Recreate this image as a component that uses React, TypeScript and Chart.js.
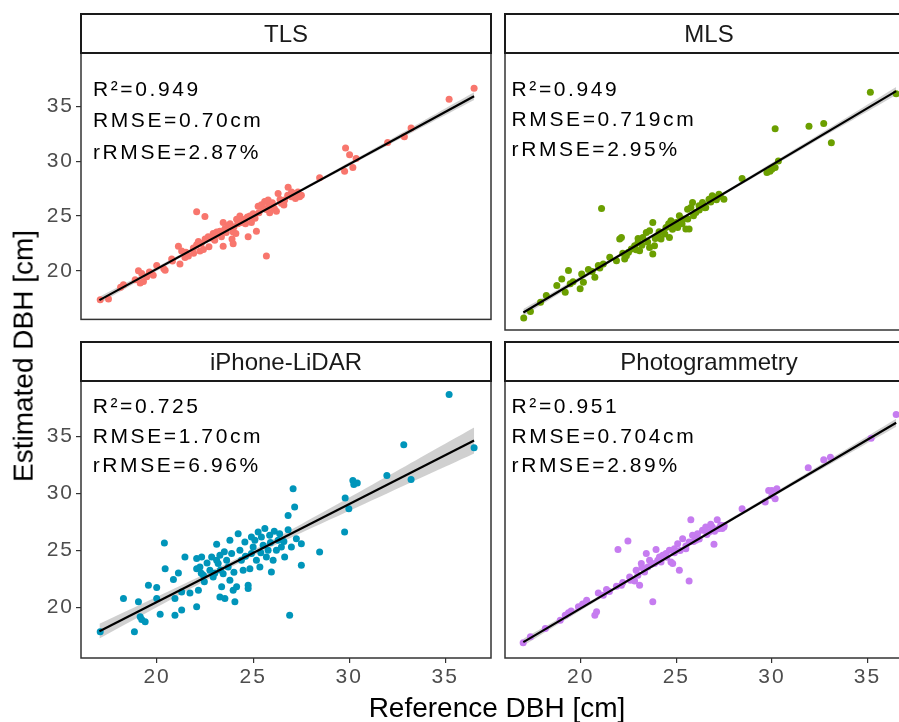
import React, { useEffect, useRef } from "react";
import { Chart, registerables } from "chart.js";
Chart.register(...registerables);

// ---------- data ----------
const panelNames = ["TLS", "MLS", "iPhone-LiDAR", "Photogrammetry"];
const pointColors = ["#F8766D", "#6B9F00", "#0095BA", "#C67CF0"];
const statR2 = ["0.949", "0.949", "0.725", "0.951"];
const statRMSE = ["0.70cm", "0.719cm", "1.70cm", "0.704cm"];
const statRRMSE = ["2.87%", "2.95%", "6.96%", "2.89%"];
const xTicks = [20, 25, 30, 35];
const yTicks = [20, 25, 30, 35];
const xRange = [16.04, 37.38];
const yRange = [15.57, 39.87];
const xTitle = "Reference DBH [cm]";
const yTitle = "Estimated DBH [cm]";

const tlsPoints: [number, number][] = [
  [17.04, 17.37], [17.47, 17.43], [18.1, 18.5], [18.25, 18.74], [18.86, 19.18], [19.03, 20.0], [19.12, 18.89], [19.2, 19.76],
  [19.29, 19.03], [19.46, 19.47], [19.6, 19.9], [19.8, 19.6], [19.98, 20.49], [20.35, 20.2], [20.42, 20.05], [20.76, 21.07],
  [20.8, 20.9], [21.11, 22.24], [21.19, 20.63], [21.28, 21.8], [21.45, 21.22], [21.5, 21.7], [21.63, 21.36], [21.89, 22.09],
  [21.9, 21.6], [22.06, 22.38], [22.06, 25.38], [22.15, 22.67], [22.23, 21.8], [22.3, 22.5], [22.41, 21.95], [22.49, 24.95],
  [22.5, 22.9], [22.66, 23.11], [22.7, 22.2], [22.8, 23.0], [22.92, 23.4], [23.0, 23.2], [23.0, 22.8], [23.1, 23.55],
  [23.2, 23.4], [23.27, 23.61], [23.35, 23.1], [23.44, 22.24], [23.44, 24.42], [23.53, 23.84], [23.6, 23.5], [23.7, 24.13],
  [23.8, 24.3], [23.88, 23.99], [23.9, 22.9], [23.96, 23.55], [23.96, 22.47], [24.0, 24.0], [24.1, 23.4], [24.14, 24.71],
  [24.2, 24.3], [24.31, 25.0], [24.39, 24.42], [24.45, 24.6], [24.57, 24.71], [24.6, 24.3], [24.7, 24.9], [24.74, 23.11],
  [24.83, 25.0], [24.91, 24.42], [25.0, 25.2], [25.1, 24.8], [25.17, 23.61], [25.26, 25.88], [25.3, 25.3], [25.43, 26.03],
  [25.5, 25.7], [25.6, 26.32], [25.69, 21.36], [25.69, 25.59], [25.78, 26.46], [25.8, 25.9], [25.86, 25.3], [25.95, 25.88],
  [26.0, 26.2], [26.1, 25.7], [26.21, 25.44], [26.3, 27.05], [26.4, 26.5], [26.47, 26.17], [26.6, 26.0], [26.64, 26.46],
  [26.8, 26.9], [26.82, 27.63], [26.99, 26.75], [27.0, 27.2], [27.16, 27.05], [27.2, 26.6], [27.33, 27.19], [27.42, 26.75],
  [27.51, 26.9], [28.46, 28.5], [29.76, 29.08], [29.81, 31.2], [30.02, 30.6], [30.19, 29.43], [30.36, 30.25], [32.0, 31.7],
  [32.87, 32.23], [33.22, 33.02], [35.2, 35.64], [36.5, 36.66],
];

const mlsPoints: [number, number][] = [
  [17.02, 16.62], [17.37, 17.2], [17.9, 18.0], [18.2, 18.6], [18.75, 19.47], [19.01, 20.05], [19.19, 18.89], [19.36, 20.78],
  [19.45, 19.62], [19.6, 19.8], [19.97, 19.18], [20.05, 20.49], [20.14, 19.76], [20.4, 20.87], [20.6, 20.7], [20.74, 20.2],
  [20.92, 21.22], [21.0, 21.0], [21.09, 26.23], [21.18, 21.36], [21.52, 21.95], [21.87, 21.65], [22.04, 23.55], [22.13, 23.69],
  [22.2, 22.3], [22.3, 21.8], [22.39, 22.09], [22.5, 22.4], [22.65, 22.67], [22.82, 22.97], [22.9, 22.6], [23.0, 23.26],
  [23.0, 23.6], [23.08, 22.53], [23.2, 23.0], [23.25, 23.69], [23.43, 24.13], [23.5, 23.3], [23.6, 24.28], [23.6, 22.8],
  [23.77, 25.0], [23.77, 22.24], [23.86, 22.97], [23.9, 23.6], [24.03, 23.84], [24.1, 24.2], [24.2, 23.55], [24.29, 24.13],
  [24.4, 24.0], [24.46, 24.57], [24.6, 24.9], [24.64, 23.69], [24.72, 25.15], [24.8, 24.4], [24.9, 24.86], [25.0, 25.0],
  [25.07, 24.57], [25.16, 25.59], [25.3, 24.9], [25.33, 25.3], [25.5, 24.42], [25.59, 26.17], [25.6, 25.3], [25.67, 24.42],
  [25.76, 26.32], [25.85, 26.75], [25.9, 25.6], [26.02, 25.88], [26.19, 26.46], [26.2, 26.1], [26.37, 26.75], [26.5, 26.3],
  [26.54, 26.32], [26.71, 27.05], [26.8, 26.8], [26.88, 27.34], [27.06, 27.19], [27.1, 27.0], [27.23, 27.48], [27.3, 27.3],
  [27.49, 27.05], [28.44, 28.85], [29.74, 29.38], [29.9, 29.5], [30.0, 29.67], [30.17, 29.82], [30.34, 30.39], [30.17, 33.22],
  [31.94, 33.45], [32.71, 33.69], [33.11, 32.0], [35.15, 36.43], [36.5, 36.3],
];

const iphonePoints: [number, number][] = [
  [17.04, 17.87], [18.25, 20.79], [18.82, 17.87], [19.03, 20.5], [19.12, 19.18], [19.2, 18.95], [19.38, 18.74], [19.55, 21.95],
  [19.98, 21.75], [19.98, 20.79], [20.16, 19.41], [20.38, 25.66], [20.42, 23.41], [20.85, 22.45], [20.93, 20.79], [20.93, 19.33],
  [21.11, 23.03], [21.28, 21.37], [21.28, 19.77], [21.45, 24.44], [21.71, 21.28], [22.06, 20.06], [22.06, 24.29], [22.06, 23.41],
  [22.15, 21.52], [22.23, 23.56], [22.3, 23.0], [22.32, 24.44], [22.41, 22.83], [22.46, 22.25], [22.6, 23.9], [22.75, 23.27],
  [22.84, 24.44], [22.92, 22.68], [23.0, 23.0], [23.1, 25.54], [23.1, 24.14], [23.18, 23.85], [23.27, 24.58], [23.27, 20.93],
  [23.3, 23.3], [23.36, 21.81], [23.44, 22.97], [23.5, 24.9], [23.53, 20.79], [23.62, 24.14], [23.7, 23.56], [23.79, 25.9],
  [23.79, 22.39], [23.88, 24.73], [23.96, 21.52], [24.0, 23.1], [24.05, 20.5], [24.14, 21.81], [24.22, 26.48], [24.31, 25.02],
  [24.39, 24.14], [24.48, 23.27], [24.57, 25.75], [24.6, 24.5], [24.74, 21.95], [24.74, 21.66], [24.83, 23.41], [24.91, 24.73],
  [24.91, 26.19], [25.0, 25.3], [25.09, 25.9], [25.17, 24.14], [25.26, 26.62], [25.35, 23.56], [25.4, 24.8], [25.43, 26.19],
  [25.52, 25.46], [25.61, 26.92], [25.69, 24.44], [25.78, 25.02], [25.86, 26.33], [25.9, 25.7], [25.95, 23.12], [26.04, 24.14],
  [26.1, 26.7], [26.21, 25.02], [26.3, 25.9], [26.38, 26.48], [26.47, 25.31], [26.6, 25.8], [26.64, 24.44], [26.82, 28.08],
  [26.82, 26.83], [26.9, 19.33], [26.99, 25.31], [27.08, 30.42], [27.16, 28.81], [27.25, 26.04], [27.51, 25.6], [27.51, 23.71],
  [28.46, 24.87], [29.76, 26.62], [29.79, 29.6], [29.98, 28.67], [30.19, 31.15], [30.24, 30.8], [30.42, 30.92], [31.96, 31.58],
  [32.84, 34.27], [33.22, 31.23], [35.2, 38.68], [36.5, 34.01],
];

const photoPoints: [number, number][] = [
  [16.99, 16.9], [17.37, 17.43], [18.15, 18.16], [18.93, 18.89], [19.19, 19.33], [19.36, 19.53], [19.5, 19.7], [19.88, 20.06],
  [20.1, 20.3], [20.31, 20.64], [20.74, 19.33], [20.83, 19.62], [20.92, 21.28], [21.18, 21.08], [21.35, 21.58], [21.5, 21.4],
  [21.87, 21.86], [21.95, 25.08], [22.13, 21.95], [22.2, 22.2], [22.47, 25.84], [22.56, 22.68], [22.6, 22.4], [22.82, 22.33],
  [22.9, 23.27], [22.99, 22.83], [23.08, 21.95], [23.17, 23.85], [23.2, 23.5], [23.34, 23.12], [23.43, 24.73], [23.51, 23.56],
  [23.6, 24.14], [23.7, 23.8], [23.77, 20.5], [23.86, 23.85], [23.94, 25.08], [24.03, 24.14], [24.12, 24.44], [24.2, 24.0],
  [24.29, 24.58], [24.46, 24.73], [24.5, 24.4], [24.64, 25.02], [24.72, 23.99], [24.81, 23.85], [24.9, 25.16], [24.9, 24.8],
  [25.07, 25.6], [25.16, 23.27], [25.2, 25.0], [25.33, 26.04], [25.5, 25.16], [25.5, 25.4], [25.67, 22.33], [25.67, 25.75],
  [25.76, 27.7], [25.85, 26.33], [25.9, 25.8], [26.02, 25.9], [26.11, 26.48], [26.2, 26.0], [26.37, 26.77], [26.54, 27.06],
  [26.6, 26.4], [26.71, 26.62], [26.8, 27.3], [26.88, 27.06], [26.97, 25.54], [27.0, 26.7], [27.14, 27.7], [27.2, 26.9],
  [27.32, 27.21], [27.4, 26.92], [27.49, 27.06], [27.5, 27.2], [28.44, 28.67], [29.65, 29.25], [29.83, 30.27], [30.0, 29.8],
  [30.0, 30.27], [30.17, 29.54], [30.26, 30.42], [31.9, 32.26], [32.71, 32.96], [33.06, 33.19], [35.19, 34.85], [36.5, 36.93],
];

// fitted regression lines
const fitX = [17.0, 36.5];
const tlsFit = [17.33, 35.93];
const mlsFit = [17.11, 36.53];
const iphoneFit = [17.92, 34.65];
const photoFit = [16.96, 36.21];

// confidence bands
const bandX = [17.0, 20.0, 24.5, 29.0, 32.0, 36.5];
const tlsUpper = [17.63, 20.37, 24.59, 28.93, 31.84, 36.28];
const tlsLower = [17.03, 20.01, 24.39, 28.63, 31.44, 35.58];
const mlsUpper = [17.41, 20.28, 24.68, 29.21, 32.25, 36.88];
const mlsLower = [16.81, 19.92, 24.48, 28.91, 31.85, 36.18];
const iphoneUpper = [18.57, 20.94, 24.6, 28.71, 31.53, 35.8];
const iphoneLower = [17.27, 20.04, 24.1, 27.71, 30.03, 33.5];
const photoUpper = [17.26, 20.1, 24.46, 28.96, 31.97, 36.56];
const photoLower = [16.66, 19.74, 24.26, 28.66, 31.57, 35.86];

const allPoints = [tlsPoints, mlsPoints, iphonePoints, photoPoints];
const allFits = [tlsFit, mlsFit, iphoneFit, photoFit];
const allUpper = [tlsUpper, mlsUpper, iphoneUpper, photoUpper];
const allLower = [tlsLower, mlsLower, iphoneLower, photoLower];

// ---------- layout / style ----------
const FONT = '"Liberation Sans", Arial, Helvetica, sans-serif';
const PANEL_W = 411;
const COL_LEFT = [81, 503];
const ROW_TOP = [53, 381];
const ROW_H = [278, 277];
const STRIP_H = 39;
const Y_AXIS_W = 50;
const X_AXIS_H = 45;
// [dx, dy of first line, line gap]
const annoPos = [
  [12, 37, 31.5],
  [6.6, 37, 30],
  [11.7, 26.3, 29.5],
  [6.6, 26.3, 29.7],
];

function geometry(i: number) {
  const col = i % 2;
  const row = Math.floor(i / 2);
  const padL = col === 0 ? Y_AXIS_W : 2;
  const padR = 3;
  const padT = STRIP_H + 2;
  const padB = row === 1 ? X_AXIS_H : 3;
  return {
    col,
    row,
    padL,
    padR,
    padT,
    padB,
    left: COL_LEFT[col] - padL,
    top: ROW_TOP[row] - padT,
    w: padL + PANEL_W + padR,
    h: padT + ROW_H[row] + padB,
  };
}

function makeChart(canvas: HTMLCanvasElement, i: number) {
  const g = geometry(i);
  const pts = allPoints[i];
  const showX = g.row === 1;
  const showY = g.col === 0;
  const facetPlugin = {
    id: "facet" + i,
    beforeDraw(chart: any) {
      chart.ctx.letterSpacing = "2px";
    },
    afterDraw(chart: any) {
      const ctx = chart.ctx;
      const a = chart.chartArea;
      const w = a.right - a.left;
      ctx.save();
      ctx.letterSpacing = "0px";
      // panel border
      ctx.strokeStyle = "#333333";
      ctx.lineWidth = 1.5;
      ctx.strokeRect(a.left, a.top, w, a.bottom - a.top);
      // strip
      const sTop = a.top - STRIP_H;
      ctx.fillStyle = "#ffffff";
      ctx.fillRect(a.left, sTop, w, STRIP_H);
      ctx.strokeStyle = "#1a1a1a";
      ctx.lineWidth = 2;
      ctx.strokeRect(a.left, sTop, w, STRIP_H);
      ctx.fillStyle = "#1a1a1a";
      ctx.font = `24px ${FONT}`;
      ctx.textAlign = "center";
      ctx.textBaseline = "middle";
      ctx.fillText(panelNames[i], (a.left + a.right) / 2, sTop + STRIP_H / 2 + 2);
      // statistics annotation
      const [dx, dy, gap] = annoPos[i];
      const lines = ["R²=" + statR2[i], "RMSE=" + statRMSE[i], "rRMSE=" + statRRMSE[i]];
      ctx.letterSpacing = "2.6px";
      ctx.font = `21px ${FONT}`;
      ctx.textAlign = "left";
      ctx.fillStyle = "#000000";
      lines.forEach((t, k) => ctx.fillText(t, a.left + dx, a.top + dy + k * gap));
      ctx.restore();
      ctx.letterSpacing = "0px";
    },
  };

  return new Chart(canvas, {
    type: "scatter",
    data: {
      datasets: [
        {
          type: "line",
          data: bandX.map((x, k) => ({ x, y: allUpper[i][k] })),
          borderWidth: 0,
          borderColor: "rgba(0,0,0,0)",
          pointRadius: 0,
          fill: false,
          tension: 0.4,
          order: 3,
        } as any,
        {
          type: "line",
          data: bandX.map((x, k) => ({ x, y: allLower[i][k] })),
          borderWidth: 0,
          borderColor: "rgba(0,0,0,0)",
          pointRadius: 0,
          fill: "-1",
          backgroundColor: "rgba(150,150,150,0.45)",
          tension: 0.4,
          order: 3,
        } as any,
        {
          type: "scatter",
          data: pts.map(([x, y]) => ({ x, y })),
          backgroundColor: pointColors[i],
          borderWidth: 0,
          pointRadius: 3.5,
          order: 2,
        } as any,
        {
          type: "line",
          data: fitX.map((x, k) => ({ x, y: allFits[i][k] })),
          borderColor: "#000000",
          borderWidth: 2.2,
          pointRadius: 0,
          fill: false,
          order: 1,
        } as any,
      ],
    },
    options: {
      responsive: false,
      animation: false,
      devicePixelRatio: 1,
      events: [],
      layout: {
        padding: {
          top: g.padT,
          right: g.padR,
          left: showY ? 0 : g.padL,
          bottom: showX ? 0 : g.padB,
        },
      },
      plugins: {
        legend: { display: false },
        tooltip: { enabled: false },
        title: { display: false },
      },
      scales: {
        x: {
          type: "linear",
          min: xRange[0],
          max: xRange[1],
          display: showX,
          afterBuildTicks: (s: any) => {
            s.ticks = xTicks.map((v) => ({ value: v }));
          },
          afterFit: (s: any) => {
            s.height = showX ? X_AXIS_H : 0;
          },
          grid: { drawOnChartArea: false, drawTicks: true, tickLength: 5, color: "#333333", lineWidth: 1.2 },
          border: { display: false },
          ticks: {
            color: "#4D4D4D",
            font: { family: FONT, size: 21 },
            padding: 2,
            maxRotation: 0,
            autoSkip: false,
          },
        },
        y: {
          type: "linear",
          min: yRange[0],
          max: yRange[1],
          display: showY,
          afterBuildTicks: (s: any) => {
            s.ticks = yTicks.map((v) => ({ value: v }));
          },
          afterFit: (s: any) => {
            s.width = showY ? Y_AXIS_W : 0;
          },
          grid: { drawOnChartArea: false, drawTicks: true, tickLength: 5, color: "#333333", lineWidth: 1.2 },
          border: { display: false },
          ticks: {
            color: "#4D4D4D",
            font: { family: FONT, size: 21 },
            padding: 2,
            autoSkip: false,
          },
        },
      },
    } as any,
    plugins: [facetPlugin as any],
  });
}

export default function App() {
  const r0 = useRef<HTMLCanvasElement>(null);
  const r1 = useRef<HTMLCanvasElement>(null);
  const r2 = useRef<HTMLCanvasElement>(null);
  const r3 = useRef<HTMLCanvasElement>(null);
  const refs = [r0, r1, r2, r3];

  useEffect(() => {
    const charts = refs.map((r, i) => makeChart(r.current as HTMLCanvasElement, i));
    return () => charts.forEach((c) => c.destroy());
  }, []);

  return (
    <div
      style={{
        position: "fixed",
        left: 0,
        top: 0,
        width: 899,
        height: 722,
        overflow: "hidden",
        background: "#ffffff",
      }}
    >
      {refs.map((r, i) => {
        const g = geometry(i);
        return (
          <canvas
            key={i}
            ref={r}
            width={g.w}
            height={g.h}
            style={{ position: "absolute", left: g.left, top: g.top, width: g.w, height: g.h }}
          />
        );
      })}
      <div
        style={{
          position: "absolute",
          left: 24,
          top: 356,
          transform: "translate(-50%, -50%) rotate(-90deg)",
          whiteSpace: "nowrap",
          fontFamily: FONT,
          fontSize: 28,
          color: "#000",
          lineHeight: 1.1,
        }}
      >
        {yTitle}
      </div>
      <div
        style={{
          position: "absolute",
          left: 497,
          top: 708,
          transform: "translate(-50%, -50%)",
          whiteSpace: "nowrap",
          fontFamily: FONT,
          fontSize: 28,
          color: "#000",
          lineHeight: 1.1,
        }}
      >
        {xTitle}
      </div>
    </div>
  );
}
